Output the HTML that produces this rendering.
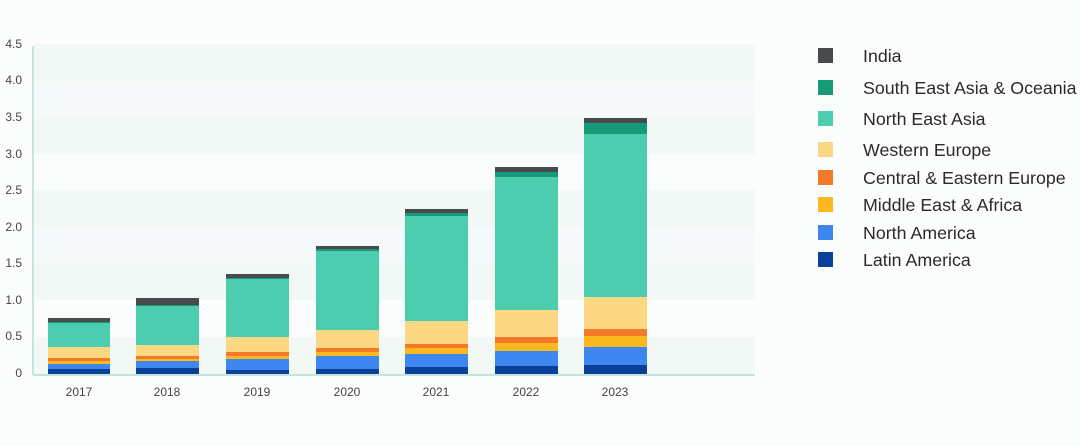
<!DOCTYPE html>
<html><head><meta charset="utf-8"><style>
body{margin:0;background:#fbfcfc;}
svg{display:block;font-family:"Liberation Sans",sans-serif;}
</style></head><body>
<svg width="1080" height="446" viewBox="0 0 1080 446" xmlns="http://www.w3.org/2000/svg">
<rect width="1080" height="446" fill="#fbfcfc"/>
<g fill="#f1f8f6">
<rect x="34" y="44" width="721" height="37"/>
<rect x="34" y="117" width="721" height="37"/>
<rect x="34" y="190" width="721" height="37"/>
<rect x="34" y="263" width="721" height="37"/>
<rect x="34" y="337" width="721" height="37"/>
</g>
<g fill="#f5f9f9">
<rect x="34" y="81" width="721" height="36"/>
<rect x="34" y="227" width="721" height="36"/>
</g>
<line x1="33" y1="46" x2="33" y2="375" stroke="#9fd8c8" stroke-width="1.2"/>
<line x1="33" y1="375" x2="755" y2="375" stroke="#9fd8c8" stroke-width="1.2"/>
<g font-size="12" fill="#444" text-anchor="end">
<text x="22" y="48">4.5</text><text x="22" y="84">4.0</text><text x="22" y="121">3.5</text>
<text x="22" y="158">3.0</text><text x="22" y="194">2.5</text><text x="22" y="231">2.0</text>
<text x="22" y="267">1.5</text><text x="22" y="304">1.0</text><text x="22" y="340">0.5</text>
<text x="22" y="377">0</text>
</g>
<g font-size="12" fill="#444" text-anchor="middle">
<text x="79" y="396">2017</text><text x="167" y="396">2018</text><text x="257" y="396">2019</text>
<text x="347" y="396">2020</text><text x="436" y="396">2021</text><text x="526" y="396">2022</text>
<text x="615" y="396">2023</text>
</g>
<g>
<rect x="48" y="318" width="62" height="4" fill="#484b4d"/><rect x="48" y="322" width="62" height="1" fill="#179a78"/><rect x="48" y="323" width="62" height="24" fill="#4dcdb0"/><rect x="48" y="347" width="62" height="11" fill="#fdd882"/><rect x="48" y="358" width="62" height="3" fill="#f47a2a"/><rect x="48" y="361" width="62" height="3" fill="#fbb91f"/><rect x="48" y="364" width="62" height="5" fill="#3f87f0"/><rect x="48" y="369" width="62" height="5" fill="#0a409a"/>
<rect x="136" y="298" width="63" height="7" fill="#484b4d"/><rect x="136" y="305" width="63" height="1" fill="#179a78"/><rect x="136" y="306" width="63" height="39" fill="#4dcdb0"/><rect x="136" y="345" width="63" height="11" fill="#fdd882"/><rect x="136" y="356" width="63" height="3" fill="#f47a2a"/><rect x="136" y="359" width="63" height="2" fill="#fbb91f"/><rect x="136" y="361" width="63" height="7" fill="#3f87f0"/><rect x="136" y="368" width="63" height="6" fill="#0a409a"/>
<rect x="226" y="274" width="63" height="4" fill="#484b4d"/><rect x="226" y="278" width="63" height="1" fill="#179a78"/><rect x="226" y="279" width="63" height="58" fill="#4dcdb0"/><rect x="226" y="337" width="63" height="15" fill="#fdd882"/><rect x="226" y="352" width="63" height="4" fill="#f47a2a"/><rect x="226" y="356" width="63" height="3" fill="#fbb91f"/><rect x="226" y="359" width="63" height="11" fill="#3f87f0"/><rect x="226" y="370" width="63" height="4" fill="#0a409a"/>
<rect x="316" y="246" width="63" height="3" fill="#484b4d"/><rect x="316" y="249" width="63" height="2" fill="#179a78"/><rect x="316" y="251" width="63" height="79" fill="#4dcdb0"/><rect x="316" y="330" width="63" height="18" fill="#fdd882"/><rect x="316" y="348" width="63" height="4" fill="#f47a2a"/><rect x="316" y="352" width="63" height="4" fill="#fbb91f"/><rect x="316" y="356" width="63" height="13" fill="#3f87f0"/><rect x="316" y="369" width="63" height="5" fill="#0a409a"/>
<rect x="405" y="209" width="63" height="4" fill="#484b4d"/><rect x="405" y="213" width="63" height="3" fill="#179a78"/><rect x="405" y="216" width="63" height="105" fill="#4dcdb0"/><rect x="405" y="321" width="63" height="23" fill="#fdd882"/><rect x="405" y="344" width="63" height="4" fill="#f47a2a"/><rect x="405" y="348" width="63" height="6" fill="#fbb91f"/><rect x="405" y="354" width="63" height="13" fill="#3f87f0"/><rect x="405" y="367" width="63" height="7" fill="#0a409a"/>
<rect x="495" y="167" width="63" height="5" fill="#484b4d"/><rect x="495" y="172" width="63" height="5" fill="#179a78"/><rect x="495" y="177" width="63" height="133" fill="#4dcdb0"/><rect x="495" y="310" width="63" height="27" fill="#fdd882"/><rect x="495" y="337" width="63" height="6" fill="#f47a2a"/><rect x="495" y="343" width="63" height="8" fill="#fbb91f"/><rect x="495" y="351" width="63" height="15" fill="#3f87f0"/><rect x="495" y="366" width="63" height="8" fill="#0a409a"/>
<rect x="584" y="118" width="63" height="5" fill="#484b4d"/><rect x="584" y="123" width="63" height="11" fill="#179a78"/><rect x="584" y="134" width="63" height="163" fill="#4dcdb0"/><rect x="584" y="297" width="63" height="32" fill="#fdd882"/><rect x="584" y="329" width="63" height="7" fill="#f47a2a"/><rect x="584" y="336" width="63" height="11" fill="#fbb91f"/><rect x="584" y="347" width="63" height="18" fill="#3f87f0"/><rect x="584" y="365" width="63" height="9" fill="#0a409a"/>
</g>
<g>
<rect x="818" y="48" width="15" height="15" fill="#484b4d"/>
<rect x="818" y="80" width="15" height="15" fill="#179a78"/>
<rect x="818" y="111" width="15" height="15" fill="#4dcdb0"/>
<rect x="818" y="142" width="15" height="15" fill="#fdd882"/>
<rect x="818" y="170" width="15" height="15" fill="#f47a2a"/>
<rect x="818" y="197" width="15" height="15" fill="#fbb91f"/>
<rect x="818" y="225" width="15" height="15" fill="#3f87f0"/>
<rect x="818" y="252" width="15" height="15" fill="#0a409a"/>
</g>
<g font-size="17.8" fill="#2a2a2a">
<text x="863" y="62">India</text>
<text x="863" y="94">South East Asia &amp; Oceania</text>
<text x="863" y="125">North East Asia</text>
<text x="863" y="156">Western Europe</text>
<text x="863" y="184">Central &amp; Eastern Europe</text>
<text x="863" y="211">Middle East &amp; Africa</text>
<text x="863" y="239">North America</text>
<text x="863" y="266">Latin America</text>
</g>
</svg>
</body></html>
